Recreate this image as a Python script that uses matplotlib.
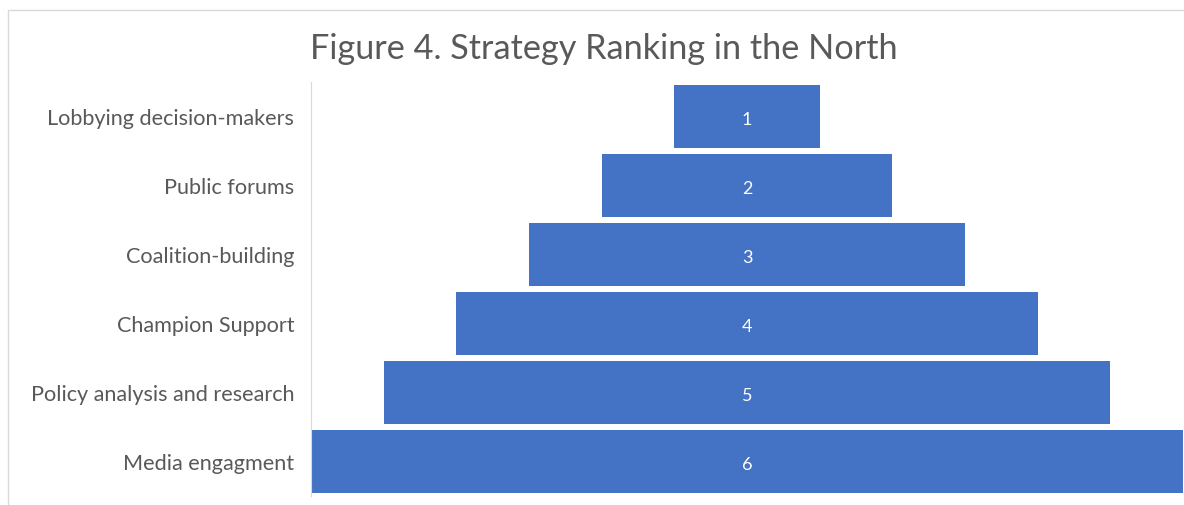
import matplotlib.pyplot as plt
from matplotlib.patches import Rectangle

# funnel data (top to bottom)
strategies = ['Lobbying decision-makers', 'Public forums', 'Coalition-building',
              'Champion Support', 'Policy analysis and research', 'Media engagment']
ranks = [1, 2, 3, 4, 5, 6]

plt.rcParams['font.family'] = ['Lato', 'DejaVu Sans']

fig = plt.figure(figsize=(11.84, 5.06), dpi=100)
fig.patches.append(Rectangle((8 / 1184, -0.01), 1.0, 1 - 11 / 506 + 0.01,
                             transform=fig.transFigure, fill=False,
                             edgecolor='#d9d9d9', linewidth=1))

ax = fig.add_axes([311 / 1184, 1 - 497 / 506, 872 / 1184, 414 / 506])

ypos = list(range(len(strategies)))
lefts = [-r / 2 for r in ranks]
bars = ax.barh(ypos, ranks, left=lefts, height=0.92, color='#4472C4')
for y, r in zip(ypos, ranks):
    ax.text(0, y + 0.03, str(r), ha='center', va='center', color='white', fontsize=13)

ax.set_xlim(-3, 3)
ax.set_ylim(len(strategies) - 0.5, -0.5)
ax.set_yticks(ypos)
ax.set_yticklabels(strategies, fontsize=15.6, color='#595959')
ax.tick_params(axis='y', length=0, pad=12)
ax.set_xticks([])
for s in ['top', 'right', 'bottom']:
    ax.spines[s].set_visible(False)
ax.spines['left'].set_color('#d9d9d9')

fig.text(604 / 1184, 1 - 49 / 506, 'Figure 4. Strategy Ranking in the North',
         ha='center', va='center', fontsize=24.7, color='#595959')

plt.savefig('out.png', dpi=100)
